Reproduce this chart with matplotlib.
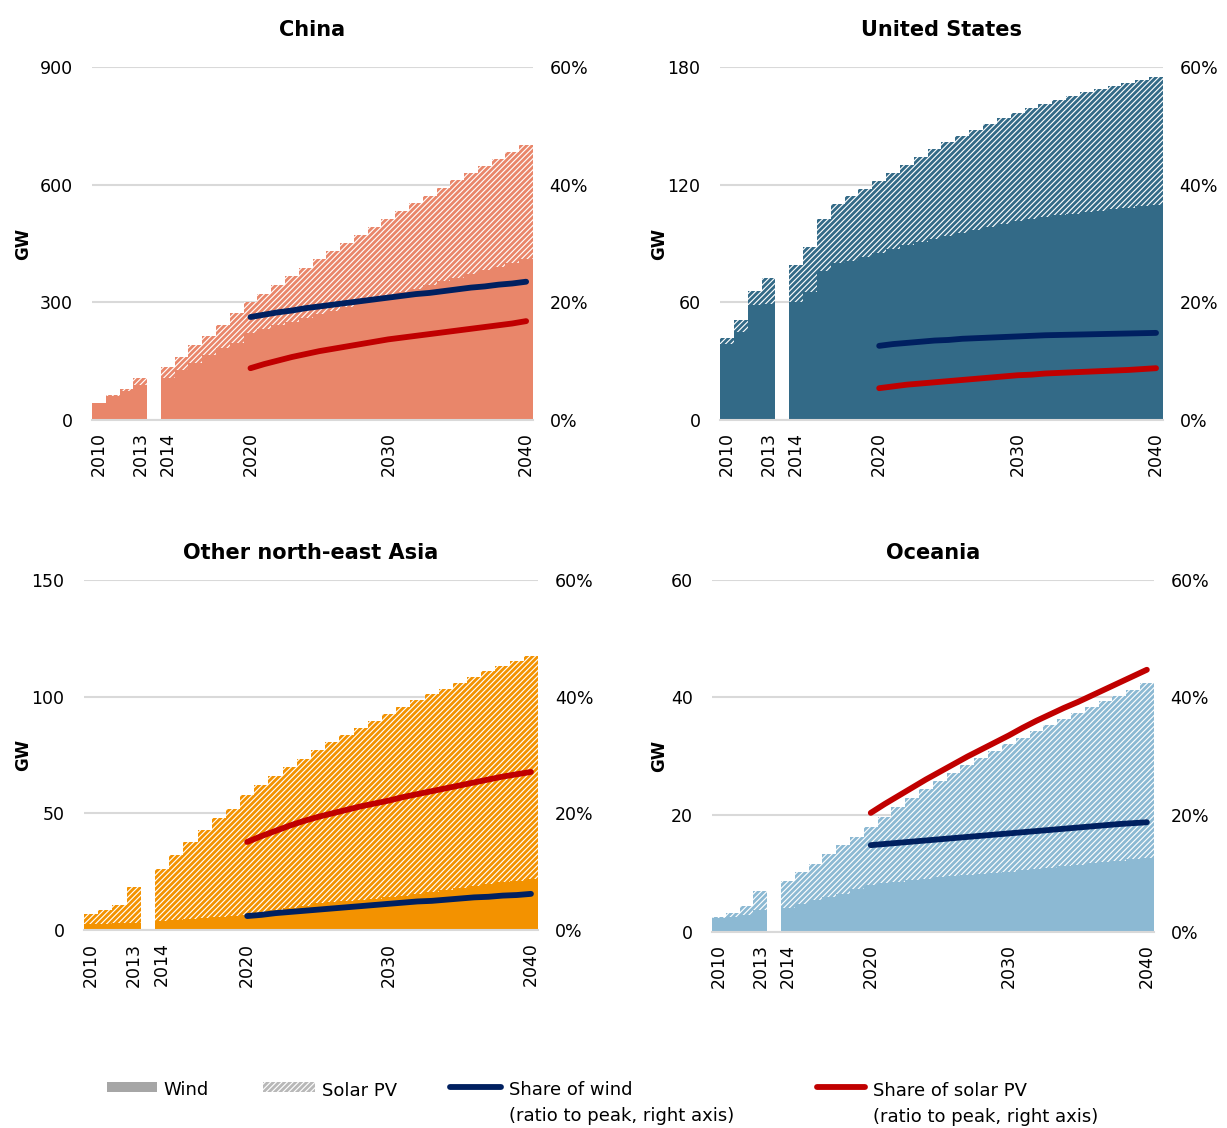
import numpy as np
import matplotlib
matplotlib.use("Agg")
from matplotlib import pyplot as plt
from matplotlib.patches import Rectangle
from matplotlib.lines import Line2D
from matplotlib.ticker import FuncFormatter

plt.rcParams['font.family'] = ['DejaVu Sans']
plt.rcParams['hatch.linewidth'] = 2.0

# years on the x axis (gap between 2013 and 2014)
years = list(range(2010, 2014)) + list(range(2014, 2041))
line_years = list(range(2020, 2041))
tick_years = [2010, 2013, 2014, 2020, 2030, 2040]

# --- China (GW) ---
china_total = [43, 64, 79, 107, 135, 160, 190, 215, 243, 272, 300, 322, 344, 366, 388, 410,
               432, 452, 472, 492, 512, 532, 552, 572, 592, 612, 630, 648, 666, 684, 701]
china_wind = [43, 62, 75, 89, 107, 127, 145, 165, 184, 197, 222, 231, 241, 250, 260, 269,
              279, 288, 297, 307, 316, 325, 335, 344, 354, 363, 373, 382, 391, 401, 410]
china_share_wind = [17.5, 17.9, 18.3, 18.6, 19.0, 19.3, 19.6, 19.9, 20.2, 20.5, 20.8,
                    21.1, 21.4, 21.6, 21.9, 22.2, 22.5, 22.7, 23.0, 23.2, 23.5]
china_share_solar = [8.8, 9.5, 10.1, 10.7, 11.2, 11.7, 12.1, 12.5, 12.9, 13.3, 13.7,
                     14.0, 14.3, 14.6, 14.9, 15.2, 15.5, 15.8, 16.1, 16.4, 16.8]

# --- United States (GW) ---
us_total = [41.8, 51, 66, 72.4, 79, 88, 102.5, 110, 114, 118, 122, 126, 130, 134, 138, 141.5,
            145, 148, 151, 154, 156.5, 159, 161, 163, 165, 167, 169, 170.5, 172, 173.5, 175]
us_wind = [38.8, 45, 58.7, 59, 60, 65, 76, 80, 81, 83, 85, 87, 89, 91, 92.5, 94,
           95.5, 97, 98.5, 100, 101.3, 102.5, 103.5, 104.3, 105, 105.8, 106.6, 107.4, 108.2, 109, 109.6]
us_share_wind = [12.6, 12.9, 13.1, 13.3, 13.5, 13.6, 13.8, 13.9, 14.0, 14.1, 14.2,
                 14.3, 14.4, 14.45, 14.5, 14.55, 14.6, 14.65, 14.7, 14.75, 14.8]
us_share_solar = [5.4, 5.7, 6.0, 6.2, 6.4, 6.6, 6.8, 7.0, 7.2, 7.4, 7.6,
                  7.7, 7.9, 8.0, 8.1, 8.2, 8.3, 8.4, 8.5, 8.65, 8.8]

# --- Other north-east Asia (GW) ---
nea_total = [6.9, 8.6, 10.7, 18.4, 26, 32, 37.7, 43, 48, 52, 58, 62, 66, 70, 73.5, 77,
             80.5, 83.5, 86.5, 89.5, 92.5, 95.5, 98.5, 101, 103.5, 106, 108.5, 111, 113.3, 115.5, 117.5]
nea_wind = [2.6, 2.6, 3, 3, 4, 4.4, 4.8, 5.2, 5.6, 6.0, 6.5, 7.5, 8.5, 9.5, 10.5, 11.5,
            12, 12.5, 13, 13.5, 14, 14.8, 15.6, 16.4, 17.2, 18, 18.8, 19.6, 20.4, 21.2, 22]
nea_share_wind = [2.4, 2.6, 2.9, 3.1, 3.3, 3.5, 3.7, 3.9, 4.1, 4.3, 4.5,
                  4.7, 4.9, 5.0, 5.2, 5.4, 5.6, 5.7, 5.9, 6.0, 6.2]
nea_share_solar = [15.1, 16.1, 17.0, 17.9, 18.7, 19.4, 20.0, 20.6, 21.2, 21.7, 22.2,
                   22.8, 23.3, 23.8, 24.3, 24.8, 25.3, 25.8, 26.3, 26.7, 27.1]

# --- Oceania (GW) ---
oce_total = [2.5, 3.2, 4.4, 7.0, 8.7, 10.2, 11.6, 13.3, 14.8, 16.2, 17.9, 19.6, 21.3, 22.9, 24.4, 25.8,
             27.1, 28.4, 29.6, 30.8, 32.0, 33.1, 34.2, 35.3, 36.3, 37.3, 38.3, 39.3, 40.3, 41.3, 42.4]
oce_wind = [2.4, 2.6, 2.9, 3.7, 4.1, 4.8, 5.4, 6.0, 6.5, 7.3, 8.0, 8.3, 8.6, 8.9, 9.1, 9.3,
            9.5, 9.7, 9.9, 10.1, 10.3, 10.5, 10.7, 10.9, 11.2, 11.4, 11.7, 11.9, 12.1, 12.4, 12.6]
oce_share_wind = [14.8, 15.0, 15.2, 15.4, 15.6, 15.8, 16.0, 16.2, 16.4, 16.6, 16.8,
                  17.0, 17.2, 17.4, 17.6, 17.8, 18.0, 18.2, 18.4, 18.55, 18.7]
oce_share_solar = [20.3, 21.8, 23.2, 24.6, 26.0, 27.3, 28.6, 29.9, 31.1, 32.3, 33.5,
                   34.8, 36.0, 37.1, 38.2, 39.2, 40.3, 41.4, 42.5, 43.6, 44.7]

# title, data, colour, y max, axes rect, GW label x, title pad
panels = [
    ("China", china_total, china_wind, china_share_wind, china_share_solar,
     "#E9866A", 900, [0.075, 0.6277, 0.3594, 0.3129], -0.136, 22),
    ("United States", us_total, us_wind, us_share_wind, us_share_solar,
     "#336A87", 180, [0.5868, 0.6277, 0.361, 0.3129], -0.117, 22),
    ("Other north-east Asia", nea_total, nea_wind, nea_share_wind, nea_share_solar,
     "#F39200", 150, [0.0685, 0.1755, 0.370, 0.3103], -0.115, 15),
    ("Oceania", oce_total, oce_wind, oce_share_wind, oce_share_solar,
     "#8CB9D3", 60, [0.5803, 0.1738, 0.360, 0.312], -0.099, 15),
]

NAVY = "#002060"
RED = "#C00000"
GRID = "#D9D9D9"
HATCH = "//////"


def slot(y):
    # one empty slot between 2013 and 2014
    return years.index(y) + (1 if y >= 2014 else 0)


xpos = [slot(y) for y in years]
lpos = [slot(y) for y in line_years]

fig = plt.figure(figsize=(12.27, 11.28), dpi=100)

for title, total, wind, sw, ss, color, ymax, rect, lblx, tpad in panels:
    ax = fig.add_axes(rect)
    solar = np.array(total) - np.array(wind)
    ax.bar(xpos, wind, width=1.0, color=color, linewidth=0)
    ax.bar(xpos, solar, bottom=wind, width=1.0, facecolor="white",
           edgecolor=color, hatch=HATCH, linewidth=0)
    ax.set_xlim(-0.5, 31.5)
    ax.set_ylim(0, ymax)
    ax.set_yticks(np.linspace(0, ymax, 4))
    ax.set_axisbelow(True)
    ax.grid(axis="y", color=GRID, linewidth=1.5)
    for s in ["top", "left", "right"]:
        ax.spines[s].set_visible(False)
    ax.spines["bottom"].set_color(GRID)
    ax.spines["bottom"].set_linewidth(1.5)
    ax.set_xticks([slot(y) for y in tick_years])
    ax.set_xticklabels([str(y) for y in tick_years], rotation=90)
    ax.tick_params(axis="x", length=0, pad=9, labelsize=12.5)
    ax.tick_params(axis="y", length=0, pad=14, labelsize=12.5)
    ax.set_title(title, fontsize=15, fontweight="bold", pad=tpad)
    ax.set_ylabel("GW", fontsize=12, fontweight="bold")
    ax.yaxis.set_label_coords(lblx, 0.5)

    ax2 = ax.twinx()
    ax2.plot(lpos, np.array(sw) / 100, color=NAVY, lw=4.2, solid_capstyle="round")
    ax2.plot(lpos, np.array(ss) / 100, color=RED, lw=4.2, solid_capstyle="round")
    ax2.set_ylim(0, 0.6)
    ax2.set_yticks([0, 0.2, 0.4, 0.6])
    ax2.yaxis.set_major_formatter(FuncFormatter(lambda v, p: "{:.0f}%".format(v * 100)))
    ax2.tick_params(axis="y", length=0, pad=12, labelsize=12.5)
    for s in ax2.spines.values():
        s.set_visible(False)

# legend drawn at the bottom
W, H = 1227.0, 1128.0
fig.add_artist(Rectangle((107 / W, 1 - 1092 / H), 50 / W, 10 / H, transform=fig.transFigure,
                         facecolor="#A6A6A6", linewidth=0))
fig.add_artist(Rectangle((263 / W, 1 - 1092 / H), 52 / W, 10 / H, transform=fig.transFigure,
                         facecolor="white", edgecolor="#B8B8B8", hatch=HATCH, linewidth=0))
fig.add_artist(Line2D([450 / W, 501 / W], [1 - 1087 / H] * 2, transform=fig.transFigure,
                      color=NAVY, lw=4.2, solid_capstyle="round"))
fig.add_artist(Line2D([817 / W, 865 / W], [1 - 1087 / H] * 2, transform=fig.transFigure,
                      color=RED, lw=4.2, solid_capstyle="round"))
fig.text(163 / W, 1 - 1090 / H, "Wind", fontsize=13, va="center")
fig.text(322 / W, 1 - 1091 / H, "Solar PV", fontsize=13, va="center")
fig.text(509 / W, 1 - 1081 / H, "Share of wind\n(ratio to peak, right axis)",
         fontsize=13, va="top", linespacing=1.6)
fig.text(873 / W, 1 - 1082 / H, "Share of solar PV\n(ratio to peak, right axis)",
         fontsize=13, va="top", linespacing=1.6)

fig.savefig("out.png", dpi=100)
